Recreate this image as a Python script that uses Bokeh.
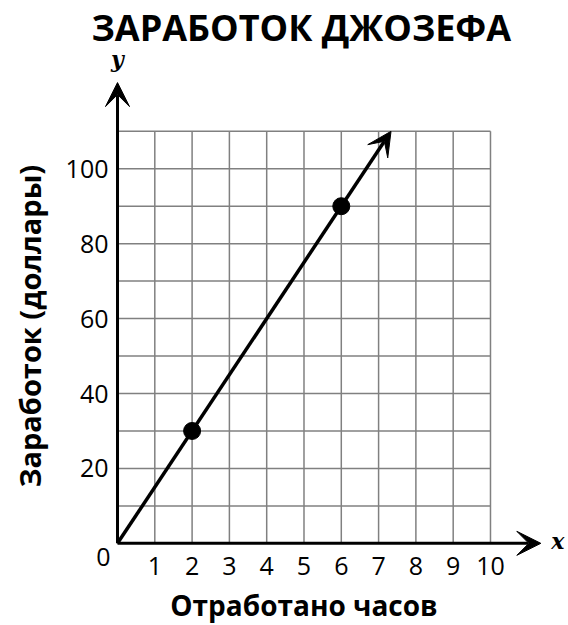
import numpy as np
from bokeh.plotting import figure
from bokeh.models import Arrow, VeeHead, Range1d
from bokeh.core.properties import value
from bokeh.embed import file_html
from bokeh.resources import INLINE

# ---- data ----
title_text = "ЗАРАБОТОК ДЖОЗЕФА"
x_title = "Отработано часов"
y_title = "Заработок (доллары)"
hours = [2, 6]
earnings = [30, 90]
x_ticks = [1, 2, 3, 4, 5, 6, 7, 8, 9, 10]
x_tick_labels = ["1", "2", "3", "4", "5", "6", "7", "8", "9", "10"]
y_ticks = [20, 40, 60, 80, 100]
y_tick_labels = ["20", "40", "60", "80", "100"]
x_grid = [0, 1, 2, 3, 4, 5, 6, 7, 8, 9, 10]
y_grid = [0, 10, 20, 30, 40, 50, 60, 70, 80, 90, 100, 110]
x_axis_end = 11.35
y_axis_end = 123

grid_x_max = max(x_grid)
grid_y_max = max(y_grid)

FONT = "Open Sans"

p = figure(width=566, height=623,
           x_range=Range1d(-3.137, 12.038),
           y_range=Range1d(-21.4, 131.3),
           x_axis_location=None, y_axis_location=None,
           output_backend="svg", toolbar_location=None,
           min_border=0)
p.grid.visible = False
p.outline_line_color = None

p.title.text = title_text
p.title.text_font = FONT
p.title.text_font_size = "36px"
p.title.text_font_style = "bold"
p.title.text_color = "black"
p.title.align = "left"
p.title.offset = 91
p.title.standoff = 0

# grid
gray = "#808080"
p.segment(x0=x_grid, y0=[0] * len(x_grid), x1=x_grid, y1=[grid_y_max] * len(x_grid),
          line_color=gray, line_width=1.5)
p.segment(x0=[0] * len(y_grid), y0=y_grid, x1=[grid_x_max] * len(y_grid), y1=y_grid,
          line_color=gray, line_width=1.5)

# axes with arrows
p.add_layout(Arrow(x_start=0, y_start=0, x_end=x_axis_end, y_end=0,
                   line_width=3, line_color="black",
                   end=VeeHead(size=24, fill_color="black", line_color="black")))
p.add_layout(Arrow(x_start=0, y_start=0, x_end=0, y_end=y_axis_end,
                   line_width=3, line_color="black",
                   end=VeeHead(size=24, fill_color="black", line_color="black")))

# data line (rate from the two points) extended to top of grid
rate = (earnings[1] - earnings[0]) / (hours[1] - hours[0])
line_end_x = grid_y_max / rate
p.add_layout(Arrow(x_start=0, y_start=0, x_end=line_end_x, y_end=grid_y_max,
                   line_width=3.5, line_color="black",
                   end=VeeHead(size=24, fill_color="black", line_color="black")))

p.scatter(hours, earnings, size=17, fill_color="black", line_color="black")

# tick labels
p.text(x=x_ticks, y=[0] * len(x_ticks), text=x_tick_labels, y_offset=23,
       text_align="center", text_baseline="middle",
       text_font=value(FONT), text_font_size="25px", text_color="black")
p.text(x=[0], y=[0], text=["0"], x_offset=-14, y_offset=14,
       text_align="center", text_baseline="middle",
       text_font=value(FONT), text_font_size="25px", text_color="black")
p.text(x=[0] * len(y_ticks), y=y_ticks, text=y_tick_labels, x_offset=-9,
       text_align="right", text_baseline="middle",
       text_font=value(FONT), text_font_size="25px", text_color="black")

# axis titles
p.text(x=[grid_x_max / 2], y=[0], text=[x_title], y_offset=62,
       text_align="center", text_baseline="middle",
       text_font=value(FONT), text_font_size="28px", text_font_style="bold",
       text_color="black")
p.text(x=[0], y=[58], text=[y_title], x_offset=-88, angle=np.pi / 2,
       text_align="center", text_baseline="middle",
       text_font=value(FONT), text_font_size="29px", text_font_style="bold",
       text_color="black")

# axis variable names
p.text(x=[0], y=[y_axis_end], text=["y"], y_offset=-24,
       text_align="center", text_baseline="middle",
       text_font=value("DejaVu Serif"), text_font_size="22px",
       text_font_style="bold italic", text_color="black")
p.text(x=[x_axis_end], y=[0], text=["x"], x_offset=17, y_offset=-2,
       text_align="center", text_baseline="middle",
       text_font=value("DejaVu Serif"), text_font_size="22px",
       text_font_style="bold italic", text_color="black")

open("out.html", "w").write(file_html(p, INLINE))
